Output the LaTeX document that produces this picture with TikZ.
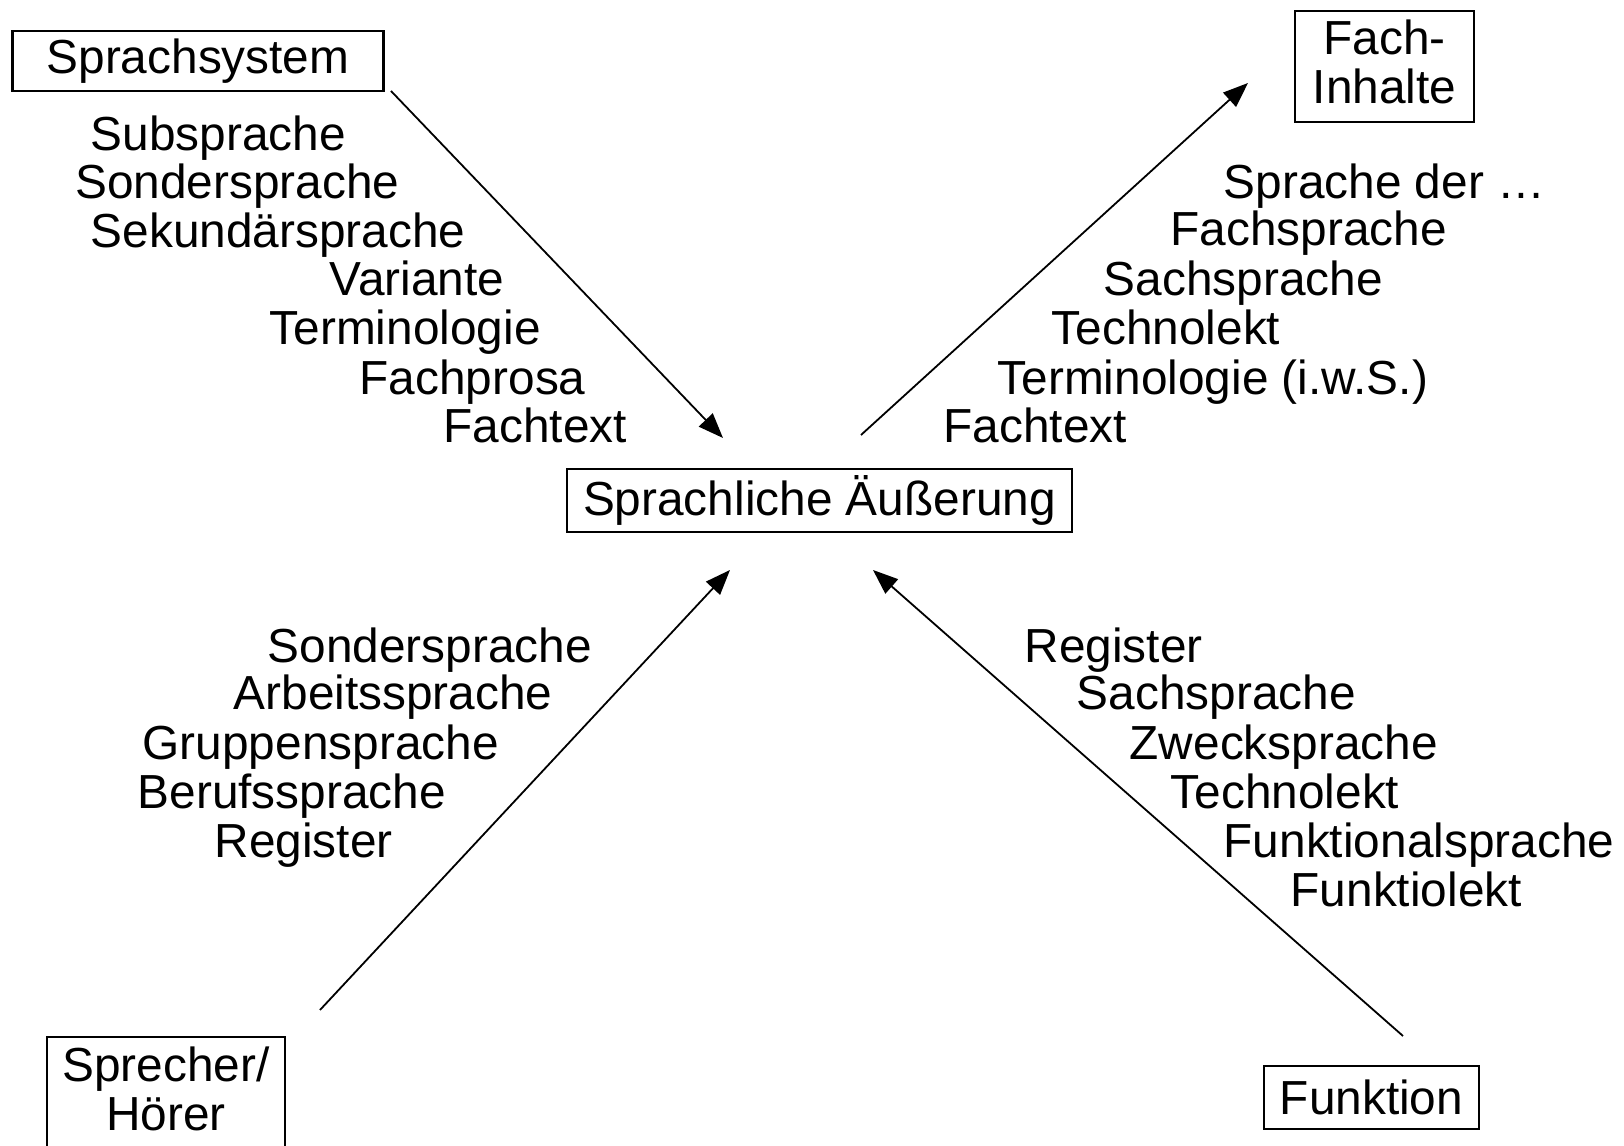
\documentclass[tikz,border=0pt]{standalone}
\usepackage{fontspec}
\setmainfont{Liberation Sans}
\usetikzlibrary{arrows.meta}
\tikzset{
  box/.style={draw, line width=0.022cm, inner sep=0pt, align=center},
  lbl/.style={anchor=base west, inner sep=0pt},
  arr/.style={line width=0.018cm, -{Triangle[length=0.25cm, width=0.19cm]}}
}
\begin{document}
\begin{tikzpicture}
                \useasboundingbox (0,0) rectangle (16.240000,11.460000);
                {\fontsize{13.6}{13.8}\selectfont

                % Boxes
                \node (sys) [box, minimum width=3.71cm, minimum height=0.60cm] at (1.980000,10.850000) {Sprachsystem};
                \node (fach) [box, minimum width=1.79cm, minimum height=1.11cm] at (13.845000,10.795000) {Fach-\\Inhalte\rule[-2.7pt]{0pt}{0pt}};
                \node (aeu) [box, minimum width=5.05cm, minimum height=0.63cm] at (8.195000,6.455000) {Sprachliche Äußerung};
                \node (fkt) [box, minimum width=2.15cm, minimum height=0.63cm] at (13.715000,0.485000) {Funktion};
                % box Sprecher/Hoerer runs off the page
                \draw [line width=0.022cm] (0.470000,-0.600000) rectangle (2.850000,1.090000);
                \node (spr) [align=center, inner sep=0pt] at (1.660000,0.570000) {Sprecher/\\Hörer};

                % Arrow ends
                \coordinate (sysA) at (3.910000,10.550000);
                \coordinate (sysB) at (7.230000,7.080000);
                \coordinate (fachA) at (8.610000,7.110000);
                \coordinate (fachB) at (12.480000,10.630000);
                \coordinate (sprA) at (3.200000,1.360000);
                \coordinate (sprB) at (7.300000,5.760000);
                \coordinate (fktA) at (14.030000,1.100000);
                \coordinate (fktB) at (8.730000,5.760000);

                % Drawing arrows
                \draw [arr] (sysA) -- (sysB);%
                \draw [arr] (fachA) -- (fachB);%
                \draw [arr] (sprA) -- (sprB);%
                \draw [arr] (fktA) -- (fktB);%

                % Labels Sprachsystem
                \node (sys1) [lbl] at (0.900000,9.950000) {Subsprache};
                \node (sys2) [lbl] at (0.746000,9.470000) {Sondersprache};
                \node (sys3) [lbl] at (0.900000,8.980000) {Sekundärsprache};
                \node (sys4) [lbl] at (3.290000,8.500000) {Variante};
                \node (sys5) [lbl] at (2.690000,8.010000) {Terminologie};
                \node (sys6) [lbl] at (3.590000,7.510000) {Fachprosa};
                \node (sys7) [lbl] at (4.430000,7.030000) {Fachtext};

                % Labels Fach-Inhalte
                \node (fach1) [lbl] at (12.230000,9.470000) {Sprache der …};
                \node (fach2) [lbl] at (11.700000,9.000000) {Fachsprache};
                \node (fach3) [lbl] at (11.030000,8.500000) {Sachsprache};
                \node (fach4) [lbl] at (10.510000,8.010000) {Technolekt};
                \node (fach5) [lbl] at (9.970000,7.510000) {Terminologie (i.w.S.)};
                \node (fach6) [lbl] at (9.430000,7.030000) {Fachtext};

                % Labels Sprecher/Hoerer
                \node (spr1) [lbl] at (2.670000,4.830000) {Sondersprache};
                \node (spr2) [lbl] at (2.330000,4.360000) {Arbeitssprache};
                \node (spr3) [lbl] at (1.420000,3.860000) {Gruppensprache};
                \node (spr4) [lbl] at (1.370000,3.370000) {Berufssprache};
                \node (spr5) [lbl] at (2.140000,2.880000) {Register};

                % Labels Funktion
                \node (fkt1) [lbl] at (10.240000,4.830000) {Register};
                \node (fkt2) [lbl] at (10.760000,4.360000) {Sachsprache};
                \node (fkt3) [lbl] at (11.290000,3.860000) {Zwecksprache};
                \node (fkt4) [lbl] at (11.700000,3.370000) {Technolekt};
                \node (fkt5) [lbl] at (12.230000,2.880000) {Funktionalsprache};
                \node (fkt6) [lbl] at (12.900000,2.390000) {Funktiolekt};
                }
            \end{tikzpicture}
\end{document}
